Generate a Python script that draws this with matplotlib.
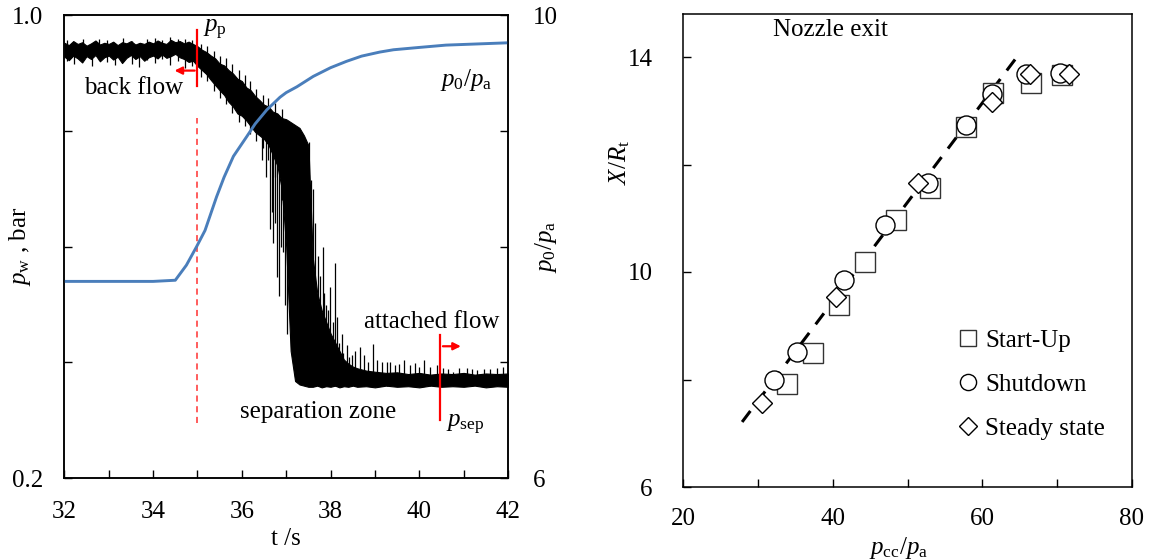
import matplotlib
matplotlib.use('Agg')
import matplotlib.pyplot as plt
from matplotlib.ticker import MultipleLocator, FixedLocator, FuncFormatter

plt.rcParams['font.family'] = ['Liberation Serif', 'DejaVu Serif']
plt.rcParams['mathtext.fontset'] = 'custom'
plt.rcParams['mathtext.rm'] = 'Liberation Serif'
plt.rcParams['mathtext.it'] = 'Liberation Serif:italic'
plt.rcParams['font.size'] = 18

# ---- left panel: wall pressure trace (envelope) ----
t_env = [32.0, 32.1, 32.2, 32.3, 32.4, 32.5, 32.6, 32.7, 32.8, 32.9,
         33.0, 33.1, 33.2, 33.3, 33.4, 33.5, 33.6, 33.7, 33.8, 33.9,
         34.0, 34.1, 34.2, 34.3, 34.4, 34.5, 34.6, 34.7, 34.8, 34.9,
         35.0, 35.1, 35.2, 35.3, 35.4, 35.5, 35.6, 35.7, 35.8, 35.9,
         36.0, 36.1, 36.2, 36.3, 36.4, 36.5, 36.6, 36.7, 36.8, 36.9,
         37.0, 37.1, 37.2, 37.3, 37.4, 37.5, 37.6, 37.7, 37.8, 37.9,
         38.0, 38.1, 38.2, 38.3, 38.4, 38.5, 38.6, 38.8, 39.0, 39.25,
         39.5, 39.75, 40.0, 40.25, 40.5, 40.75, 41.0, 41.25, 41.5, 41.75, 42.0]
hi_env = [0.952, 0.948, 0.955, 0.950, 0.953, 0.947, 0.951, 0.956, 0.949, 0.952,
          0.950, 0.954, 0.948, 0.953, 0.951, 0.955, 0.949, 0.952, 0.950, 0.954,
          0.951, 0.956, 0.952, 0.950, 0.957, 0.953, 0.955, 0.951, 0.954, 0.950,
          0.946, 0.940, 0.936, 0.930, 0.925, 0.916, 0.913, 0.905, 0.899, 0.890,
          0.886, 0.875, 0.870, 0.860, 0.853, 0.845, 0.842, 0.833, 0.830, 0.822,
          0.820, 0.815, 0.810, 0.805, 0.792, 0.775, 0.580, 0.520, 0.490, 0.470,
          0.450, 0.435, 0.420, 0.405, 0.398, 0.393, 0.390, 0.386, 0.384, 0.382,
          0.383, 0.380, 0.382, 0.379, 0.381, 0.380, 0.382, 0.379, 0.381, 0.380, 0.381]
lo_env = [0.928, 0.922, 0.930, 0.925, 0.918, 0.929, 0.924, 0.931, 0.920, 0.927,
          0.930, 0.923, 0.928, 0.917, 0.926, 0.931, 0.924, 0.929, 0.921, 0.927,
          0.930, 0.925, 0.932, 0.926, 0.929, 0.933, 0.927, 0.924, 0.919, 0.921,
          0.912, 0.905, 0.898, 0.888, 0.879, 0.870, 0.862, 0.850, 0.842, 0.830,
          0.826, 0.818, 0.808, 0.798, 0.792, 0.786, 0.776, 0.758, 0.740, 0.700,
          0.600, 0.420, 0.368, 0.362, 0.360, 0.358, 0.358, 0.360, 0.357, 0.359,
          0.358, 0.360, 0.357, 0.359, 0.358, 0.360, 0.358, 0.359, 0.357, 0.360,
          0.358, 0.359, 0.357, 0.360, 0.358, 0.359, 0.358, 0.360, 0.357, 0.359, 0.358]

# short noise strokes poking out of the band
nz_t = [32.05, 32.22, 32.41, 32.63, 32.78, 32.97, 33.14, 33.33, 33.52, 33.69,
        33.86, 34.04, 34.21, 34.38, 34.55, 34.72, 34.88, 35.08, 35.22, 35.37,
        35.51, 35.64, 35.78, 35.93, 36.06, 36.19, 36.33, 36.47, 36.60, 36.74, 36.90]
nz_lo = [0.920, 0.915, 0.924, 0.912, 0.922, 0.918, 0.913, 0.921, 0.916, 0.910,
         0.922, 0.917, 0.924, 0.914, 0.920, 0.908, 0.912, 0.893, 0.886, 0.868,
         0.856, 0.846, 0.830, 0.816, 0.808, 0.795, 0.782, 0.770, 0.750, 0.720, 0.680]
nz_hi = [0.957, 0.950, 0.959, 0.952, 0.958, 0.956, 0.950, 0.960, 0.955, 0.951,
         0.958, 0.961, 0.957, 0.962, 0.959, 0.958, 0.956, 0.950, 0.946, 0.938,
         0.929, 0.925, 0.915, 0.905, 0.896, 0.886, 0.872, 0.862, 0.857, 0.848, 0.838]

spk_t = [37.52, 37.57, 37.61, 37.66, 37.72, 37.76, 37.82, 37.86, 37.90, 37.95,
         37.99, 38.06, 38.11, 38.15, 38.20, 38.25, 38.29, 38.36, 38.42, 38.48,
         38.55, 38.66, 38.76, 38.85, 38.96, 39.05, 39.15, 39.27, 39.34, 39.45,
         39.55, 39.66, 39.78, 39.90, 40.00, 40.11, 40.25, 40.40, 40.54, 40.65,
         40.75, 40.90, 41.07, 41.18, 41.29, 41.45, 41.60, 41.75, 41.88]
spk_top = [0.780, 0.715, 0.700, 0.640, 0.583, 0.550, 0.600, 0.520, 0.500, 0.490,
           0.531, 0.470, 0.571, 0.479, 0.433, 0.450, 0.416, 0.430, 0.410, 0.413,
           0.420, 0.427, 0.413, 0.400, 0.432, 0.405, 0.401, 0.400, 0.400, 0.395,
           0.398, 0.404, 0.395, 0.399, 0.392, 0.405, 0.392, 0.395, 0.390, 0.388,
           0.384, 0.390, 0.390, 0.388, 0.387, 0.389, 0.388, 0.390, 0.392]
dn_t = [36.45, 36.55, 36.63, 36.68, 36.71, 36.75, 36.79, 36.84, 36.88, 36.93, 36.97, 37.02]
dn_bot = [0.750, 0.720, 0.630, 0.660, 0.606, 0.640, 0.548, 0.514, 0.600, 0.590, 0.500, 0.450]

# chamber pressure ratio p0/pa (right axis)
t_blue = [32.0, 33.0, 34.0, 34.5, 34.75, 34.98, 35.17, 35.43, 35.6, 35.81,
          36.11, 36.3, 36.56, 36.86, 37.0, 37.24, 37.61, 38.0, 38.36, 38.7,
          39.11, 39.42, 40.0, 40.6, 41.3, 42.0]
p_blue = [7.70, 7.70, 7.70, 7.71, 7.84, 8.00, 8.14, 8.43, 8.60, 8.78,
          8.95, 9.06, 9.18, 9.29, 9.33, 9.38, 9.47, 9.545, 9.60, 9.645,
          9.68, 9.70, 9.72, 9.74, 9.75, 9.76]

# ---- right panel: separation position ----
su_x = [33.9, 37.4, 40.8, 44.3, 48.5, 53.0, 57.8, 61.4, 66.5, 70.6]
su_y = [7.92, 8.49, 9.39, 10.19, 10.97, 11.56, 12.70, 13.33, 13.52, 13.67]
sd_x = [32.1, 35.3, 41.5, 47.0, 52.8, 57.8, 61.3, 65.8, 70.4]
sd_y = [8.00, 8.52, 9.85, 10.87, 11.65, 12.73, 13.31, 13.68, 13.70]
ss_x = [30.5, 40.5, 51.4, 61.3, 66.4, 71.6]
ss_y = [7.57, 9.54, 11.65, 13.16, 13.68, 13.68]
fit_x = [27.9, 65.0]
fit_y = [7.21, 14.07]

W, H = 1151, 560
fig = plt.figure(figsize=(W / 100, H / 100), dpi=100)

ax1 = fig.add_axes([64.4 / W, 1 - 478.3 / H, 443.6 / W, 463.3 / H])
ax1.fill_between(t_env, lo_env, hi_env, color='black', lw=0.8)
ax1.vlines(nz_t, nz_lo, nz_hi, color='black', lw=0.9)
ax1.vlines(spk_t, 0.360, spk_top, color='black', lw=0.9)
ax1.vlines(dn_t, dn_bot, 0.80, color='black', lw=0.9)

# red markers
ax1.plot([35.0, 35.0], [0.877, 0.974], color='red', lw=1.6)
ax1.plot([35.0, 35.0], [0.295, 0.822], color='#ff3030', lw=1.1, ls=(0, (4, 3)))
ax1.annotate('', xy=(34.42, 0.904), xytext=(35.0, 0.904),
             arrowprops=dict(arrowstyle='-|>', color='red', lw=1.6, mutation_scale=11))
ax1.plot([40.47, 40.47], [0.300, 0.447], color='red', lw=1.6)
ax1.annotate('', xy=(41.0, 0.428), xytext=(40.47, 0.428),
             arrowprops=dict(arrowstyle='-|>', color='red', lw=1.6, mutation_scale=11))

ax1.text(35.12, 0.974, r'$p_\mathrm{p}$', ha='left', va='center')
ax1.text(33.57, 0.874, 'back flow', ha='center', va='center')
ax1.text(41.05, 0.888, r'$p_0/p_\mathrm{a}$', ha='center', va='center')
ax1.text(40.27, 0.470, 'attached flow', ha='center', va='center')
ax1.text(37.72, 0.314, 'separation zone', ha='center', va='center')
ax1.text(40.60, 0.292, r'$p_\mathrm{sep}$', ha='left', va='center')

ax1.set_xlim(32, 42)
ax1.set_ylim(0.2, 1.0)
ax1.xaxis.set_major_locator(MultipleLocator(2))
ax1.xaxis.set_minor_locator(MultipleLocator(1))
ax1.yaxis.set_major_locator(FixedLocator([0.2, 1.0]))
ax1.yaxis.set_minor_locator(FixedLocator([0.4, 0.6, 0.8]))
ax1.yaxis.set_major_formatter(FuncFormatter(lambda v, p: f'{v:.1f}'))
ax1.set_xlabel('t /s', labelpad=4)
ax1.set_ylabel(r'$p_\mathrm{w}$ , bar')
ax1.yaxis.set_label_coords(-0.071, 0.5)

ax1r = ax1.twinx()
ax1r.plot(t_blue, p_blue, color='#4a7ebb', lw=2.1)
ax1r.set_ylim(6, 10)
ax1r.yaxis.set_major_locator(FixedLocator([6, 10]))
ax1r.yaxis.set_minor_locator(FixedLocator([7, 8, 9]))
ax1r.set_ylabel(r'$p_0/p_\mathrm{a}$')
ax1r.yaxis.set_label_coords(1.056, 0.5)

# ---- right panel ----
ax2 = fig.add_axes([683 / W, 1 - 487 / H, 449 / W, 473 / H])
ax2.plot(fit_x, fit_y, color='black', lw=2.2, ls=(0, (4.5, 3.5)), zorder=1)
ax2.plot(su_x, su_y, ls='none', marker='s', ms=13.7, mfc='white', mec='#333333', mew=1.0,
         label='Start-Up', zorder=2)
ax2.plot(sd_x, sd_y, ls='none', marker='o', ms=13.7, mfc='white', mec='black', mew=1.0,
         label='Shutdown', zorder=3)
ax2.plot(ss_x, ss_y, ls='none', marker='D', ms=10.2, mfc='white', mec='black', mew=1.0,
         label='Steady state', zorder=4)
ax2.text(39.64, 14.50, 'Nozzle exit', ha='center', va='center')

ax2.set_xlim(20, 80)
ax2.set_ylim(6, 14.8)
ax2.xaxis.set_major_locator(MultipleLocator(20))
ax2.xaxis.set_minor_locator(MultipleLocator(10))
ax2.yaxis.set_major_locator(FixedLocator([6, 10, 14]))
ax2.yaxis.set_minor_locator(FixedLocator([8, 12]))
ax2.set_xlabel(r'$p_\mathrm{cc}/p_\mathrm{a}$')
ax2.xaxis.set_label_coords(0.479, -0.101)
ax2.set_ylabel(r'$X/R_\mathrm{t}$')
ax2.yaxis.set_label_coords(-0.114, 0.687)

leg = ax2.legend(loc='upper left', bbox_to_anchor=(0.584, 0.354), frameon=False,
                 handlelength=1.0, handletextpad=0.2, labelspacing=0.85,
                 borderaxespad=0, markerscale=0.85)

for ax in (ax1, ax1r, ax2):
    for s in ax.spines.values():
        s.set_linewidth(1.1)
    ax.tick_params(which='both', direction='in', length=6, width=1.0)
ax1.tick_params(axis='y', pad=15)
ax1.tick_params(axis='x', pad=16)
ax1r.tick_params(axis='y', pad=18)
ax2.tick_params(axis='y', pad=22)
ax2.tick_params(axis='x', pad=15)
ax1r.tick_params(axis='x', which='both', top=False)

fig.savefig('out.png', dpi=100)
